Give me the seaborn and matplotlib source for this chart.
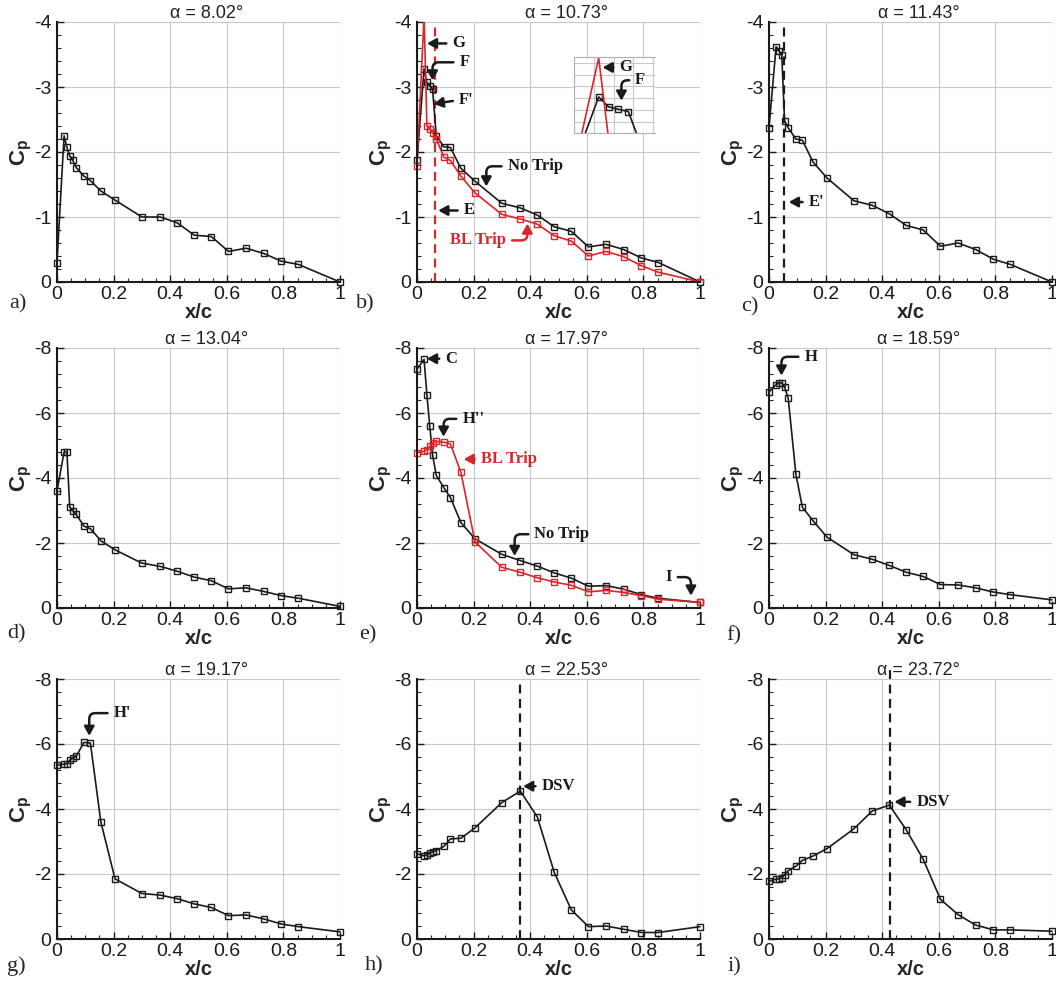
import matplotlib
matplotlib.use("Agg")
import matplotlib.pyplot as plt
import matplotlib.ticker as ticker
from matplotlib.patches import Rectangle
import seaborn as sns

# pressure tap locations along the chord
x_taps = [0, 0.025, 0.035, 0.045, 0.055, 0.068, 0.095, 0.118, 0.155, 0.205, 0.3,
          0.365, 0.425, 0.485, 0.545, 0.606, 0.668, 0.73, 0.793, 0.853, 1.0]

# Cp values
cp_a = [-0.3, -2.25, -2.07, -1.94, -1.88, -1.76, -1.63, -1.56, -1.4, -1.26, -1.0,
        -1.0, -0.91, -0.72, -0.7, -0.47, -0.52, -0.44, -0.32, -0.27, 0.0]
cp_b_notrip = [-1.87, -3.28, -3.07, -3.02, -2.97, -2.25, -2.08, -2.07, -1.75, -1.55, -1.21,
               -1.14, -1.03, -0.85, -0.78, -0.54, -0.58, -0.5, -0.37, -0.3, 0.0]
cp_b_trip = [-1.78, -4.1, -2.4, -2.36, -2.3, -2.2, -1.92, -1.87, -1.63, -1.37, -1.04,
             -0.97, -0.89, -0.71, -0.63, -0.4, -0.47, -0.39, -0.25, -0.15, 0.0]
cp_c = [-2.37, -3.62, -3.56, -3.5, -2.48, -2.37, -2.2, -2.18, -1.85, -1.6, -1.25,
        -1.18, -1.05, -0.87, -0.8, -0.55, -0.6, -0.5, -0.35, -0.27, 0.0]
cp_d = [-3.6, -4.8, -4.8, -3.1, -3.0, -2.88, -2.52, -2.44, -2.07, -1.79, -1.38,
        -1.28, -1.13, -0.95, -0.84, -0.59, -0.62, -0.51, -0.38, -0.3, -0.05]
cp_e_notrip = [-7.35, -7.65, -6.55, -5.6, -4.72, -4.08, -3.7, -3.4, -2.63, -2.13, -1.65,
               -1.46, -1.29, -1.08, -0.92, -0.67, -0.69, -0.58, -0.41, -0.3, -0.17]
cp_e_trip = [-4.78, -4.82, -4.87, -4.97, -5.08, -5.13, -5.1, -5.05, -4.18, -2.03, -1.25,
             -1.1, -0.93, -0.8, -0.7, -0.5, -0.54, -0.48, -0.38, -0.27, -0.17]
cp_f = [-6.65, -6.87, -6.92, -6.93, -6.8, -6.45, -4.12, -3.1, -2.69, -2.18, -1.64,
        -1.5, -1.31, -1.1, -0.97, -0.72, -0.71, -0.62, -0.49, -0.41, -0.25]
cp_g = [-5.35, -5.38, -5.39, -5.5, -5.56, -5.62, -6.05, -6.03, -3.6, -1.85, -1.4,
        -1.35, -1.24, -1.08, -0.97, -0.72, -0.74, -0.62, -0.46, -0.38, -0.22]
cp_h = [-2.62, -2.56, -2.58, -2.64, -2.68, -2.72, -2.85, -3.08, -3.1, -3.42, -4.2,
        -4.55, -3.76, -2.05, -0.9, -0.38, -0.4, -0.3, -0.2, -0.2, -0.38]
cp_i = [-1.78, -1.84, -1.85, -1.88, -1.98, -2.1, -2.24, -2.42, -2.55, -2.78, -3.39,
        -3.94, -4.12, -3.36, -2.45, -1.22, -0.75, -0.43, -0.28, -0.28, -0.24]

alphas = ["8.02", "10.73", "11.43", "13.04", "17.97", "18.59", "19.17", "22.53", "23.72"]
letters = ["a)", "b)", "c)", "d)", "e)", "f)", "g)", "h)", "i)"]

RED = "#d8262a"

sns.set_theme(style="white")
plt.rcParams["font.family"] = ["Liberation Sans", "DejaVu Sans"]
plt.rcParams["axes.unicode_minus"] = False
plt.rcParams["mathtext.default"] = "regular"

fig = plt.figure(figsize=(10.56, 9.82), dpi=100)

col_px = [57, 417, 769]
row_px = [22, 348, 679]
W, H = 283, 260
lab_pos = [(9, 304), (356, 304), (741, 307), (7, 634), (359, 635), (726, 636),
           (7, 966), (365, 966), (728, 967)]


def line(ax, y, color="k", markers=True, clip=False):
    kw = dict(marker="s", markersize=5, markerfacecolor="none",
              markeredgecolor=color, markeredgewidth=1.0) if markers else {}
    n = len(ax.lines)
    sns.lineplot(x=x_taps, y=y, ax=ax, color=color, lw=1.2, estimator=None,
                 legend=False, **kw)
    for ln in ax.lines[n:]:
        if clip:
            # clip only at top/bottom so the end markers stay whole
            ln.set_clip_path(Rectangle((-0.05, 0), 1.1, 1, transform=ax.transAxes))
        else:
            ln.set_clip_on(False)


def note(ax, txt, xy, xytext, color="k", bend=False, side="left", size=12):
    relpos = (0, 0.5) if side == "left" else (1, 0.5)
    cs = "angle,angleA=0,angleB=90,rad=6" if bend else "arc3"
    ax.annotate(txt, xy=xy, xytext=xytext, ha=side, va="center", color=color,
                fontsize=size, fontweight="bold", family="Liberation Serif",
                arrowprops=dict(arrowstyle="-|>,head_length=0.45,head_width=0.25",
                                color=color, lw=1.8, mutation_scale=12,
                                shrinkA=2, shrinkB=0, relpos=relpos,
                                connectionstyle=cs))


axes = []
for k in range(9):
    r, c = divmod(k, 3)
    ax = fig.add_axes([col_px[c] / 1056, 1 - (row_px[r] + H) / 982, W / 1056, H / 982])
    axes.append(ax)
    ymin = -4 if r == 0 else -8
    ax.set_xlim(0, 1)
    ax.set_ylim(0, ymin)
    ax.xaxis.set_major_locator(ticker.MultipleLocator(0.2))
    ax.xaxis.set_minor_locator(ticker.AutoMinorLocator(4))
    ax.yaxis.set_major_locator(ticker.MultipleLocator(1 if r == 0 else 2))
    ax.yaxis.set_minor_locator(ticker.AutoMinorLocator(5))
    ax.xaxis.set_major_formatter(ticker.FuncFormatter(lambda v, p: "%g" % round(v, 2)))
    ax.yaxis.set_major_formatter(ticker.FuncFormatter(lambda v, p: "%g" % round(v, 2)))
    ax.tick_params(which="major", direction="in", length=5, width=1, labelsize=14,
                   left=True, bottom=True, colors="k")
    ax.tick_params(axis="x", which="major", pad=3)
    ax.tick_params(axis="y", which="major", pad=4)
    ax.tick_params(which="minor", direction="in", length=3, width=0.8,
                   left=True, bottom=True)
    for s in ["top", "right"]:
        ax.spines[s].set_visible(False)
    for s in ["left", "bottom"]:
        ax.spines[s].set_color("k")
        ax.spines[s].set_linewidth(1.5)
    ax.grid(True, which="major", color="#c8c8c8", lw=0.8)
    ax.set_axisbelow(True)
    ax.set_title(f"α = {alphas[k]}°", fontsize=13, pad=2, x=0.53, color="#222222")
    ax.set_xlabel("x/c", fontsize=14.5, fontweight="bold", labelpad=0)
    ax.set_ylabel("C$_p$", fontsize=16, fontweight="bold", labelpad=0)
    fig.text(lab_pos[k][0] / 1056, 1 - lab_pos[k][1] / 982, letters[k],
             family="Liberation Serif", fontsize=16, va="center")

# a)
line(axes[0], cp_a)

# b)
ax = axes[1]
ax.axvline(0.065, color=RED, ls="--", lw=1.6, dashes=(4, 2.5))
line(ax, cp_b_notrip)
line(ax, cp_b_trip, color=RED, clip=True)
note(ax, "G", (0.035, -3.67), (0.125, -3.67))
note(ax, "F", (0.055, -3.1), (0.15, -3.38), bend=True)
note(ax, "F'", (0.059, -2.74), (0.148, -2.8))
note(ax, "E", (0.075, -1.1), (0.165, -1.1))
note(ax, "No Trip", (0.245, -1.47), (0.32, -1.78), bend=True)
note(ax, "BL Trip", (0.39, -0.9), (0.315, -0.64), color=RED, bend=True, side="right")

# inset zoom of the leading edge
ins = fig.add_axes([574 / 1056, 1 - 133 / 982, 81 / 1056, 76 / 982])
ins.set_facecolor("white")
line(ins, cp_b_notrip, clip=True)
line(ins, cp_b_trip, color=RED, markers=False, clip=True)
ins.set_xlim(0, 0.082)
ins.set_ylim(-2.52, -4.12)
ins.xaxis.set_major_locator(ticker.MultipleLocator(0.02))
ins.yaxis.set_major_locator(ticker.MultipleLocator(0.25))
ins.tick_params(length=0, labelleft=False, labelbottom=False)
ins.grid(True, color="#c8c8c8", lw=0.8)
ins.set_axisbelow(True)
ins.set_xlabel("")
ins.set_ylabel("")
for s in ins.spines.values():
    s.set_color("#b0b0b0")
    s.set_linewidth(0.8)
ins.spines["right"].set_visible(False)
note(ins, "G", (0.029, -3.9), (0.046, -3.9))
note(ins, "F", (0.048, -3.2), (0.062, -3.63), bend=True)

# c)
ax = axes[2]
ax.axvline(0.052, color="k", ls="--", lw=1.6, dashes=(4, 2.5))
line(ax, cp_c)
note(ax, "E'", (0.07, -1.23), (0.14, -1.23))

# d)
line(axes[3], cp_d)

# e)
ax = axes[4]
line(ax, cp_e_notrip)
line(ax, cp_e_trip, color=RED)
note(ax, "C", (0.035, -7.67), (0.1, -7.67))
note(ax, "H''", (0.094, -5.27), (0.16, -5.82), bend=True)
note(ax, "BL Trip", (0.165, -4.58), (0.225, -4.58), color=RED)
note(ax, "No Trip", (0.345, -1.6), (0.415, -2.27), bend=True)
note(ax, "I", (0.968, -0.38), (0.9, -0.95), bend=True, side="right")

# f)
ax = axes[5]
line(ax, cp_f)
note(ax, "H", (0.044, -7.15), (0.125, -7.73), bend=True)

# g)
ax = axes[6]
line(ax, cp_g)
note(ax, "H'", (0.114, -6.25), (0.2, -6.95), bend=True)

# h)
ax = axes[7]
ax.axvline(0.365, color="k", ls="--", lw=1.6, dashes=(4, 2.5))
line(ax, cp_h)
note(ax, "DSV", (0.375, -4.7), (0.44, -4.7))

# i)
ax = axes[8]
ax.axvline(0.426, ymax=1.05, color="k", ls="--", lw=1.6, dashes=(4, 2.5), clip_on=False)
line(ax, cp_i)
note(ax, "DSV", (0.443, -4.22), (0.52, -4.22))

fig.savefig("out.png", dpi=100)
